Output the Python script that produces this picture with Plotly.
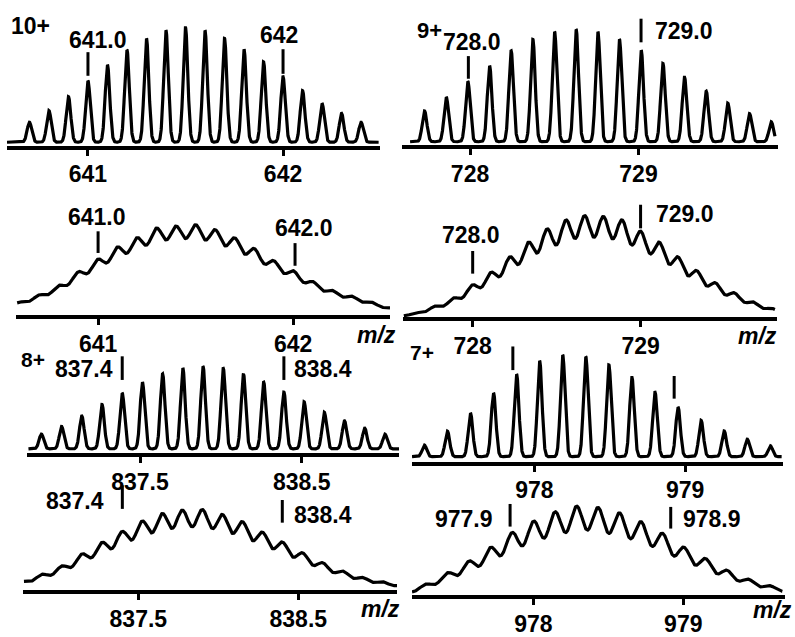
import numpy as np
import plotly.graph_objects as go

W, H = 795, 637

# ---------------- data ----------------
# Resolved isotope clusters (upper trace of each pair): m/z and relative intensity (%)
mz_10 = [640.7, 640.8, 640.9, 641.0, 641.1, 641.2, 641.3, 641.4, 641.5, 641.6,
         641.7, 641.8, 641.9, 642.0, 642.1, 642.2, 642.3, 642.4]
int_10 = [17.4, 27.6, 39.7, 53.7, 67.6, 80.6, 90.7, 97.7, 100, 97.7,
          90.7, 81.1, 70.2, 57.1, 45.0, 33.9, 25.2, 17.4]

mz_9 = [727.730, 727.859, 727.987, 728.116, 728.244, 728.373, 728.502, 728.630, 728.759,
        728.887, 729.016, 729.145, 729.273, 729.402, 729.530, 729.659, 729.788]
int_9 = [27.4, 39.7, 53.8, 67.7, 80.9, 91.2, 98.0, 100, 98.0,
         91.2, 81.5, 69.7, 57.4, 45.0, 34.4, 25.0, 17.7]

mz_8 = [836.890, 837.015, 837.140, 837.265, 837.390, 837.515, 837.640, 837.765, 837.890,
        838.015, 838.140, 838.265, 838.390, 838.515, 838.640, 838.765, 838.890, 839.015]
int_8 = [17.9, 27.1, 39.8, 53.8, 67.7, 80.9, 90.8, 98.0, 100,
         97.6, 90.8, 80.9, 68.9, 57.0, 44.2, 33.8, 25.1, 17.9]

mz_7 = [977.270, 977.423, 977.576, 977.729, 977.882, 978.035, 978.188, 978.341,
        978.494, 978.647, 978.800, 978.953, 979.106, 979.259, 979.412, 979.565]
int_7 = [11.4, 25.0, 42.8, 62.6, 81.1, 94.2, 100, 98.3,
         90.3, 77.9, 63.3, 48.7, 35.7, 25.3, 17.2, 10.7]

# Unresolved envelopes (lower trace of each pair): isotope m/z and relative intensity (%)
mz_10e = [640.5, 640.6, 640.7, 640.8, 640.9, 641.0, 641.1, 641.2, 641.3, 641.4, 641.5,
          641.6, 641.7, 641.8, 641.9, 642.0, 642.1, 642.2, 642.3, 642.4, 642.5, 642.6]
int_10e = [10.7, 16.1, 23.9, 34.0, 49.0, 62.5, 75.8, 85.7, 96.5, 98.3, 100,
           94.6, 85.7, 74.0, 60.8, 50.1, 38.3, 28.6, 22.5, 16.1, 9.6, 5.4]

mz_9e = [727.556, 727.667, 727.778, 727.889, 728.000, 728.111, 728.222, 728.333, 728.444,
         728.556, 728.667, 728.778, 728.889, 729.000, 729.111, 729.222, 729.333, 729.444,
         729.556, 729.667, 729.778, 729.889]
int_9e = [2.9, 6.0, 12.4, 20.3, 33.0, 45.0, 60.0, 74.3, 87.3,
          95.9, 100, 99.0, 95.9, 84.8, 74.3, 60.0, 46.7, 35.0,
          25.4, 16.5, 10.2, 6.4]

mz_8e = [836.775, 836.900, 837.025, 837.150, 837.275, 837.400, 837.525, 837.650, 837.775,
         837.900, 838.025, 838.150, 838.275, 838.400, 838.525, 838.650, 838.775, 838.900,
         839.025, 839.150]
int_8e = [13.1, 21.8, 31.8, 46.4, 60.4, 73.5, 86.1, 95.2, 99.2,
          100, 94.0, 85.4, 72.6, 60.7, 47.6, 35.7, 25.8, 17.9,
          12.7, 8.3]

mz_7e = [977.146, 977.289, 977.431, 977.574, 977.717, 977.860, 978.003, 978.146, 978.289,
         978.431, 978.574, 978.717, 978.860, 979.003, 979.146, 979.289, 979.431, 979.574,
         979.717]
int_7e = [5.4, 14.4, 27.1, 39.8, 54.9, 71.2, 83.7, 93.9, 100,
          98.6, 92.8, 83.1, 70.4, 54.9, 42.6, 29.6, 19.8, 12.7,
          6.5]

# tick labels
ticks_641 = [641, 642]
ticks_728 = [728, 729]
ticks_837 = [837.5, 838.5]
ticks_978 = [978, 979]

# ---------------- layout of the eight panels (pixel geometry) ----------------
panels = [
    dict(mz=mz_10, it=int_10, sig=0.0118, xr=(640.585, 642.497), span=(640.585, 642.49),
         px=(7, 380), ya=150, y0=144.5, ym=28.3, yt=0, ticks=ticks_641, fmt="{:.0f}"),
    dict(mz=mz_9, it=int_9, sig=0.0137, xr=(727.596, 729.828), span=(727.644, 729.81),
         px=(402, 778), ya=149.3, y0=144, ym=30, yt=0, ticks=ticks_728, fmt="{:.0f}"),
    dict(mz=mz_10e, it=int_10e, sig=0.0405, xr=(640.579, 642.497), span=(640.585, 642.497),
         px=(16, 390), ya=322, y0=322, ym=228.3, yt=185, ticks=ticks_641, fmt="{:.0f}"),
    dict(mz=mz_9e, it=int_9e, sig=0.0422, xr=(727.585, 729.8125), span=(727.59, 729.8),
         px=(403, 777), ya=324, y0=324, ym=219, yt=185, ticks=ticks_728, fmt="{:.0f}"),
    dict(mz=mz_8, it=int_8, sig=0.0142, xr=(836.801, 839.102), span=(836.81, 839.102),
         px=(27, 399), ya=462.7, y0=456, ym=372.3, yt=345, ticks=ticks_837, fmt="{:.1f}"),
    dict(mz=mz_7, it=int_7, sig=0.0153, xr=(977.188, 979.649), span=(977.188, 979.64),
         px=(412, 783), ya=471, y0=464, ym=360.7, yt=345, ticks=ticks_978, fmt="{:.0f}"),
    dict(mz=mz_8e, it=int_8e, sig=0.0475, xr=(836.779, 839.117), span=(836.785, 839.117),
         px=(23, 397), ya=601.7, y0=601.7, ym=517.7, yt=490, ticks=ticks_837, fmt="{:.1f}"),
    dict(mz=mz_7e, it=int_7e, sig=0.0515, xr=(977.191, 979.678), span=(977.191, 979.66),
         px=(412, 785), ya=606.7, y0=606.7, ym=514.3, yt=490, ticks=ticks_978, fmt="{:.0f}"),
]

FONT = "Liberation Sans, Arial, Helvetica, sans-serif"
LW_AX = 4
FS = 23

fig = go.Figure()
layout = dict(
    width=W, height=H, margin=dict(l=0, r=0, t=0, b=0),
    paper_bgcolor="white", plot_bgcolor="rgba(0,0,0,0)", showlegend=False,
)

for i, p in enumerate(panels, start=1):
    x = np.linspace(p["span"][0], p["span"][1], 3000)
    y = np.zeros_like(x)
    for m, h in zip(p["mz"], p["it"]):
        y += h * np.exp(-0.5 * ((x - m) / p["sig"]) ** 2)
    M = y.max()
    s = (p["y0"] - p["ym"]) / M          # pixels per intensity unit
    db = p["ya"] - LW_AX / 2             # domain bottom (pixel)
    r0 = -(db - p["y0"]) / s
    r1 = (p["y0"] - p["yt"]) / s
    xn = "x" if i == 1 else f"x{i}"
    yn = "y" if i == 1 else f"y{i}"
    fig.add_trace(go.Scatter(x=x, y=y, mode="lines", xaxis=xn, yaxis=yn,
                             line=dict(color="black", width=3.2), hoverinfo="skip"))
    xk = "xaxis" if i == 1 else f"xaxis{i}"
    yk = "yaxis" if i == 1 else f"yaxis{i}"
    layout[xk] = dict(
        domain=[p["px"][0] / W, p["px"][1] / W], range=list(p["xr"]), anchor=yn,
        showline=True, linecolor="black", linewidth=LW_AX, showgrid=False, zeroline=False,
        ticks="outside", ticklen=6, tickwidth=3, tickcolor="black",
        tickvals=p["ticks"], ticktext=[p["fmt"].format(t) for t in p["ticks"]],
        tickfont=dict(family=FONT, size=FS, color="black", weight="bold"),
        ticklabelstandoff=-1,
    )
    layout[yk] = dict(domain=[1 - db / H, 1 - p["yt"] / H], range=[r0, r1], anchor=xn,
                      visible=False, showgrid=False, zeroline=False)

fig.update_layout(**layout)


def py(v):
    return 1 - v / H


def pxx(v):
    return v / W


# marker ticks above labelled peaks: (panel, m/z, top px, bottom px)
markers = [
    (1, 641.0, 53, 77), (1, 642.0, 50, 75),
    (2, 727.99, 57, 80), (2, 729.015, 19, 43),
    (3, 641.0, 235, 257), (3, 642.01, 247, 270),
    (4, 728.0, 255, 278), (4, 729.0, 208, 232),
    (5, 837.39, 362, 386), (5, 838.39, 362, 386),
    (6, 977.857, 352, 376), (6, 978.927, 382, 405),
    (7, 837.40, 493, 517), (7, 838.40, 508, 531),
    (8, 977.845, 512, 535), (8, 978.916, 515, 537),
]
for pi, mzv, t, b in markers:
    xr = "x" if pi == 1 else f"x{pi}"
    fig.add_shape(type="line", xref=xr, yref="paper", x0=mzv, x1=mzv, y0=py(b), y1=py(t),
                  line=dict(color="black", width=3))

# text labels: (text, x px, y px, anchor, size)
labels = [
    ("10+", 9, 26, "left", 23), ("641.0", 98, 41, "center", FS), ("642", 279, 36, "center", FS),
    ("9+", 415, 31, "left", 22), ("728.0", 472, 43, "center", FS), ("729.0", 653, 32, "left", FS),
    ("641.0", 97, 220, "center", FS), ("642.0", 304, 232, "center", FS),
    ("728.0", 471, 239, "center", FS), ("729.0", 654, 217, "left", FS),
    ("8+", 19, 365, "left", 21), ("837.4", 84, 375, "center", FS), ("838.4", 292, 375, "left", FS),
    ("7+", 408, 358, "left", 21),
    ("837.4", 75, 509, "center", FS), ("838.4", 292, 523, "left", FS),
    ("977.9", 464, 527, "center", FS), ("978.9", 681, 527, "left", FS),
    ("<i>m/z</i>", 376, 340, "center", FS), ("<i>m/z</i>", 757, 341, "center", FS),
    ("<i>m/z</i>", 380, 619, "center", FS), ("<i>m/z</i>", 772, 620, "center", FS),
]
for txt, x0, y0, anc, sz in labels:
    fig.add_annotation(text=txt, x=pxx(x0), y=py(y0), xref="paper", yref="paper",
                       xanchor=anc, yanchor="middle", showarrow=False,
                       font=dict(family=FONT, size=sz, color="black", weight="bold"))

fig.write_html("out.html")
